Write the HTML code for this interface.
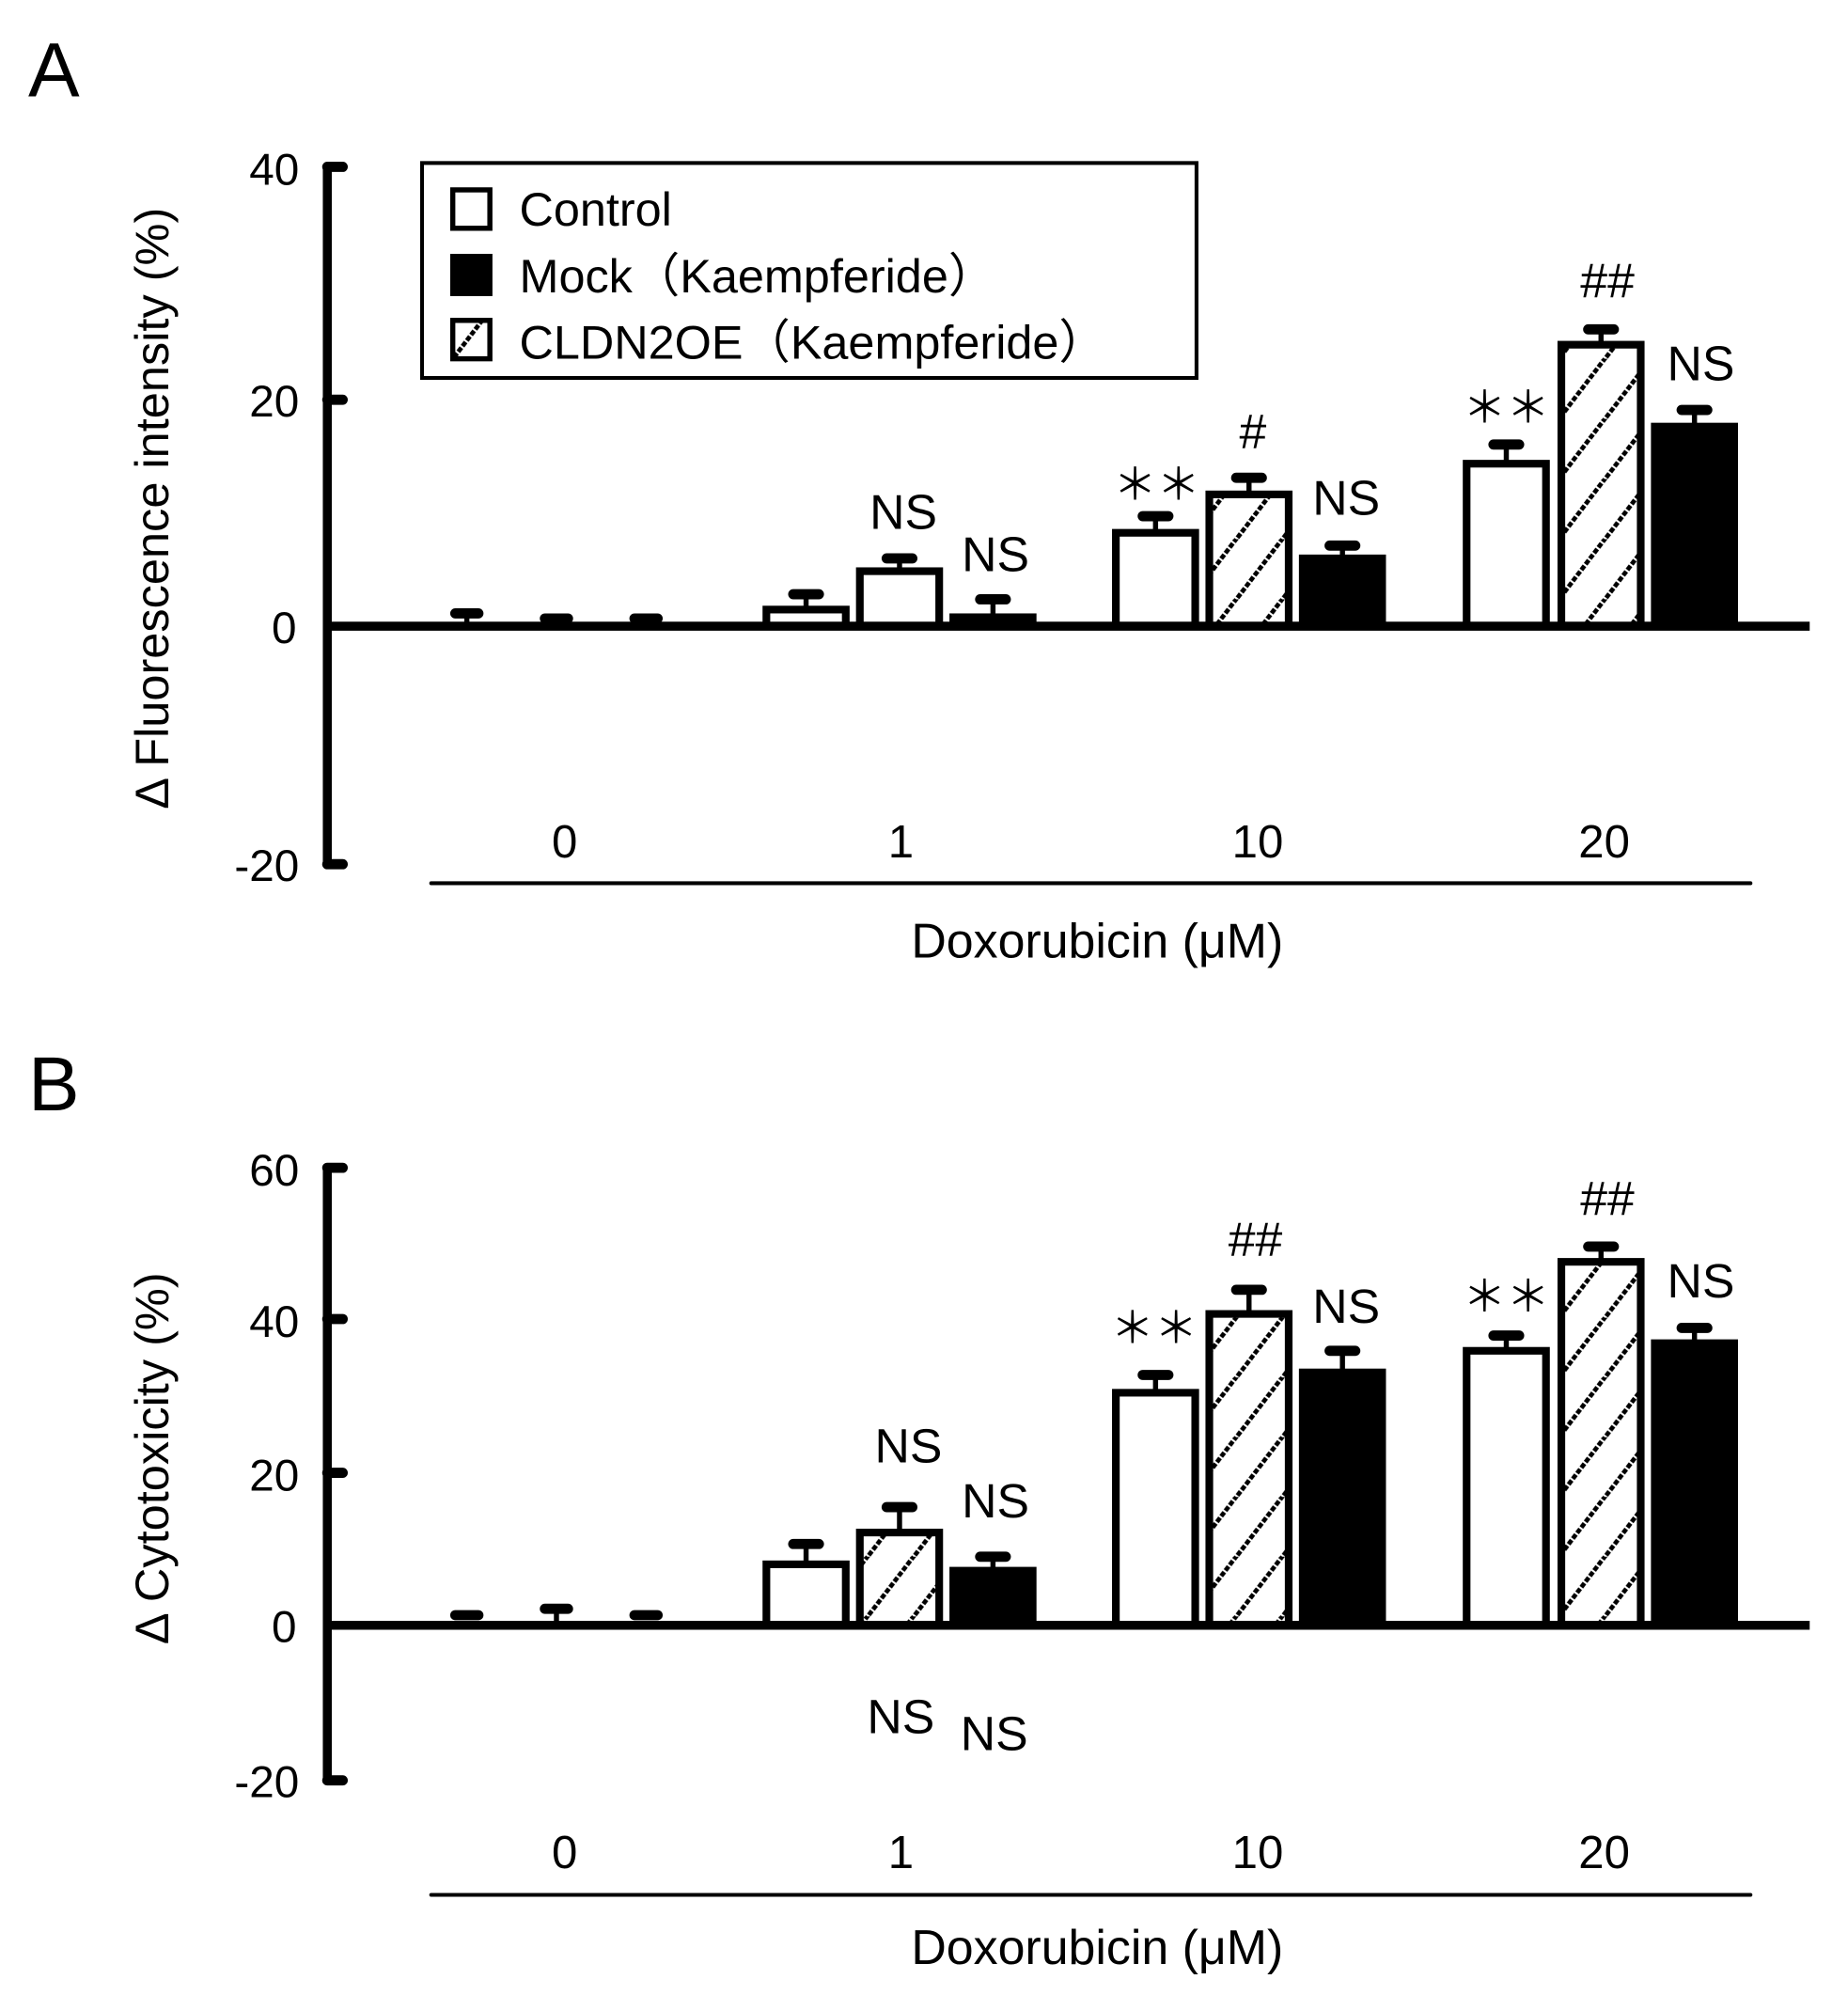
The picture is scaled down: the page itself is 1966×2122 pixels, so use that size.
<!DOCTYPE html>
<html><head><meta charset="utf-8"><style>
html,body{margin:0;padding:0;background:#fff;}
svg{display:block;}
text{font-family:"Liberation Sans","Noto Sans CJK JP",sans-serif;fill:#000;}
</style></head><body>
<svg width="1966" height="2122" viewBox="0 0 1440 1554" preserveAspectRatio="none" xmlns="http://www.w3.org/2000/svg">
<defs>
<pattern id="h" patternUnits="userSpaceOnUse" width="36" height="47">
<rect width="36" height="47" fill="#fff"/>
<path d="M-9,59 L45,-12" stroke="#000" stroke-width="3.5" stroke-dasharray="4 1.5"/>
<path d="M-45,59 L9,-12" stroke="#000" stroke-width="3.5" stroke-dasharray="4 1.5"/>
<path d="M27,59 L81,-12" stroke="#000" stroke-width="3.5" stroke-dasharray="4 1.5"/>
</pattern>
</defs>

<!-- Panel A -->
<text x="22" y="75" font-size="60">A</text>
<text transform="translate(131,396) rotate(-90)" font-size="37" text-anchor="middle">Δ Fluorescence intensity (%)</text>
<g transform="matrix(0.9975 0 0 0.9967 -6.3 -1.6)">
<g stroke="#000" stroke-linecap="round">
<line x1="262" y1="132" x2="262" y2="677" stroke-width="7" stroke-linecap="butt"/>
<line x1="262" y1="132" x2="274" y2="132" stroke-width="8"/>
<line x1="262" y1="314" x2="274" y2="314" stroke-width="8"/>
<line x1="262" y1="677" x2="274" y2="677" stroke-width="8"/>
</g>
<g font-size="35" text-anchor="end">
<text x="240" y="146">40</text><text x="240" y="327">20</text><text x="238" y="504">0</text><text x="240" y="690">-20</text>
</g>
<rect x="336" y="129" width="605" height="168" fill="#fff" stroke="#000" stroke-width="3"/>
<rect x="360" y="150" width="29" height="30" fill="#fff" stroke="#000" stroke-width="4"/>
<rect x="358" y="200" width="33" height="33" fill="#000"/>
<rect x="360" y="252" width="29" height="30" fill="url(#h)" stroke="#000" stroke-width="4"/>
<g font-size="37">
<text x="412" y="178">Control</text>
<text x="412" y="230">Mock（Kaempferide）</text>
<text x="412" y="282">CLDN2OE（Kaempferide）</text>
</g>
<g stroke="#000">
<g stroke-linecap="round" stroke-width="8">
<line x1="362" y1="481" x2="380" y2="481"/><line x1="432" y1="485" x2="450" y2="485"/><line x1="502" y1="485" x2="520" y2="485"/>
</g>
<line x1="371" y1="481" x2="371" y2="491" stroke-width="4"/>
<rect x="605" y="478" width="62" height="13" fill="#fff" stroke-width="6"/>
<line x1="636" y1="466" x2="636" y2="478" stroke-width="4"/><line x1="626" y1="466" x2="646" y2="466" stroke-width="8" stroke-linecap="round"/>
<rect x="678" y="448" width="62" height="43" fill="#fff" stroke-width="6"/>
<line x1="709" y1="438" x2="709" y2="448" stroke-width="4"/><line x1="699" y1="438" x2="719" y2="438" stroke-width="8" stroke-linecap="round"/>
<rect x="751" y="484" width="62" height="7" fill="#000" stroke-width="6"/>
<line x1="782" y1="470" x2="782" y2="484" stroke-width="4"/><line x1="772" y1="470" x2="792" y2="470" stroke-width="8" stroke-linecap="round"/>
<rect x="878" y="418" width="62" height="73" fill="#fff" stroke-width="6"/>
<line x1="909" y1="405" x2="909" y2="418" stroke-width="4"/><line x1="899" y1="405" x2="919" y2="405" stroke-width="8" stroke-linecap="round"/>
<rect x="951" y="388" width="62" height="103" fill="url(#h)" stroke-width="6"/>
<line x1="982" y1="375" x2="982" y2="388" stroke-width="4"/><line x1="972" y1="375" x2="992" y2="375" stroke-width="8" stroke-linecap="round"/>
<rect x="1024" y="438" width="62" height="53" fill="#000" stroke-width="6"/>
<line x1="1055" y1="428" x2="1055" y2="438" stroke-width="4"/><line x1="1045" y1="428" x2="1065" y2="428" stroke-width="8" stroke-linecap="round"/>
<rect x="1152" y="364" width="62" height="127" fill="#fff" stroke-width="6"/>
<line x1="1183" y1="349" x2="1183" y2="364" stroke-width="4"/><line x1="1173" y1="349" x2="1193" y2="349" stroke-width="8" stroke-linecap="round"/>
<rect x="1226" y="271" width="62" height="220" fill="url(#h)" stroke-width="6"/>
<line x1="1257" y1="259" x2="1257" y2="271" stroke-width="4"/><line x1="1247" y1="259" x2="1267" y2="259" stroke-width="8" stroke-linecap="round"/>
<rect x="1299" y="335" width="62" height="156" fill="#000" stroke-width="6"/>
<line x1="1330" y1="322" x2="1330" y2="335" stroke-width="4"/><line x1="1320" y1="322" x2="1340" y2="322" stroke-width="8" stroke-linecap="round"/>
<line x1="259" y1="491" x2="1420" y2="491" stroke-width="7"/>
</g>
<g font-size="38" text-anchor="middle">
<text x="712" y="415">NS</text><text x="784" y="448">NS</text>
<text x="910" y="392" font-size="34">＊＊</text><text x="985" y="352">#</text>
<text x="1058" y="404">NS</text><text x="1183" y="332" font-size="34">＊＊</text>
<text x="1262" y="234">##</text><text x="1335" y="299">NS</text>
</g>
</g>
<line x1="336" y1="688" x2="1364" y2="688" stroke="#000" stroke-width="3" stroke-linecap="round"/>
<g font-size="36" text-anchor="middle">
<text x="440" y="668">0</text><text x="702" y="668">1</text><text x="980" y="668">10</text><text x="1250" y="668">20</text>
<text x="855" y="746" font-size="38">Doxorubicin (μM)</text>
</g>

<!-- Panel B -->
<text x="22" y="865" font-size="60">B</text>
<text transform="translate(131,1136) rotate(-90)" font-size="37" text-anchor="middle">Δ Cytotoxicity (%)</text>
<g transform="matrix(0.9975 0 0 0.99 -6.3 2.8)">
<g stroke="#000" stroke-linecap="round">
<line x1="262" y1="916" x2="262" y2="1398" stroke-width="7" stroke-linecap="butt"/>
<line x1="262" y1="916" x2="274" y2="916" stroke-width="8"/>
<line x1="262" y1="1035" x2="274" y2="1035" stroke-width="8"/>
<line x1="262" y1="1156" x2="274" y2="1156" stroke-width="8"/>
<line x1="262" y1="1398" x2="274" y2="1398" stroke-width="8"/>
</g>
<g font-size="35" text-anchor="end">
<text x="240" y="930">60</text><text x="240" y="1049">40</text><text x="240" y="1170">20</text><text x="238" y="1289">0</text><text x="240" y="1411">-20</text>
</g>
<g stroke="#000">
<g stroke-linecap="round" stroke-width="8">
<line x1="362" y1="1268" x2="380" y2="1268"/><line x1="432" y1="1263" x2="450" y2="1263"/><line x1="502" y1="1268" x2="520" y2="1268"/>
</g>
<line x1="441" y1="1263" x2="441" y2="1276" stroke-width="4"/>
<rect x="605" y="1228" width="62" height="48" fill="#fff" stroke-width="6"/>
<line x1="636" y1="1212" x2="636" y2="1228" stroke-width="4"/><line x1="626" y1="1212" x2="646" y2="1212" stroke-width="8" stroke-linecap="round"/>
<rect x="678" y="1203" width="62" height="73" fill="url(#h)" stroke-width="6"/>
<line x1="709" y1="1183" x2="709" y2="1203" stroke-width="4"/><line x1="699" y1="1183" x2="719" y2="1183" stroke-width="8" stroke-linecap="round"/>
<rect x="751" y="1233" width="62" height="43" fill="#000" stroke-width="6"/>
<line x1="782" y1="1222" x2="782" y2="1233" stroke-width="4"/><line x1="772" y1="1222" x2="792" y2="1222" stroke-width="8" stroke-linecap="round"/>
<rect x="878" y="1093" width="62" height="183" fill="#fff" stroke-width="6"/>
<line x1="909" y1="1079" x2="909" y2="1093" stroke-width="4"/><line x1="899" y1="1079" x2="919" y2="1079" stroke-width="8" stroke-linecap="round"/>
<rect x="951" y="1031" width="62" height="245" fill="url(#h)" stroke-width="6"/>
<line x1="982" y1="1012" x2="982" y2="1031" stroke-width="4"/><line x1="972" y1="1012" x2="992" y2="1012" stroke-width="8" stroke-linecap="round"/>
<rect x="1024" y="1077" width="62" height="199" fill="#000" stroke-width="6"/>
<line x1="1055" y1="1060" x2="1055" y2="1077" stroke-width="4"/><line x1="1045" y1="1060" x2="1065" y2="1060" stroke-width="8" stroke-linecap="round"/>
<rect x="1152" y="1060" width="62" height="216" fill="#fff" stroke-width="6"/>
<line x1="1183" y1="1048" x2="1183" y2="1060" stroke-width="4"/><line x1="1173" y1="1048" x2="1193" y2="1048" stroke-width="8" stroke-linecap="round"/>
<rect x="1226" y="990" width="62" height="286" fill="url(#h)" stroke-width="6"/>
<line x1="1257" y1="978" x2="1257" y2="990" stroke-width="4"/><line x1="1247" y1="978" x2="1267" y2="978" stroke-width="8" stroke-linecap="round"/>
<rect x="1299" y="1054" width="62" height="222" fill="#000" stroke-width="6"/>
<line x1="1330" y1="1042" x2="1330" y2="1054" stroke-width="4"/><line x1="1320" y1="1042" x2="1340" y2="1042" stroke-width="8" stroke-linecap="round"/>
<line x1="259" y1="1276" x2="1420" y2="1276" stroke-width="7"/>
</g>
<g font-size="38" text-anchor="middle">
<text x="716" y="1148">NS</text><text x="784" y="1191">NS</text>
<text x="908" y="1054" font-size="34">＊＊</text><text x="987" y="985">##</text>
<text x="1058" y="1038">NS</text><text x="1183" y="1029" font-size="34">＊＊</text>
<text x="1262" y="953">##</text><text x="1335" y="1018">NS</text>
<text x="710" y="1361">NS</text><text x="783" y="1374">NS</text>
</g>
</g>
<line x1="336" y1="1476" x2="1364" y2="1476" stroke="#000" stroke-width="3" stroke-linecap="round"/>
<g font-size="36" text-anchor="middle">
<text x="440" y="1455">0</text><text x="702" y="1455">1</text><text x="980" y="1455">10</text><text x="1250" y="1455">20</text>
<text x="855" y="1530" font-size="38">Doxorubicin (μM)</text>
</g>
</svg>
</body></html>
